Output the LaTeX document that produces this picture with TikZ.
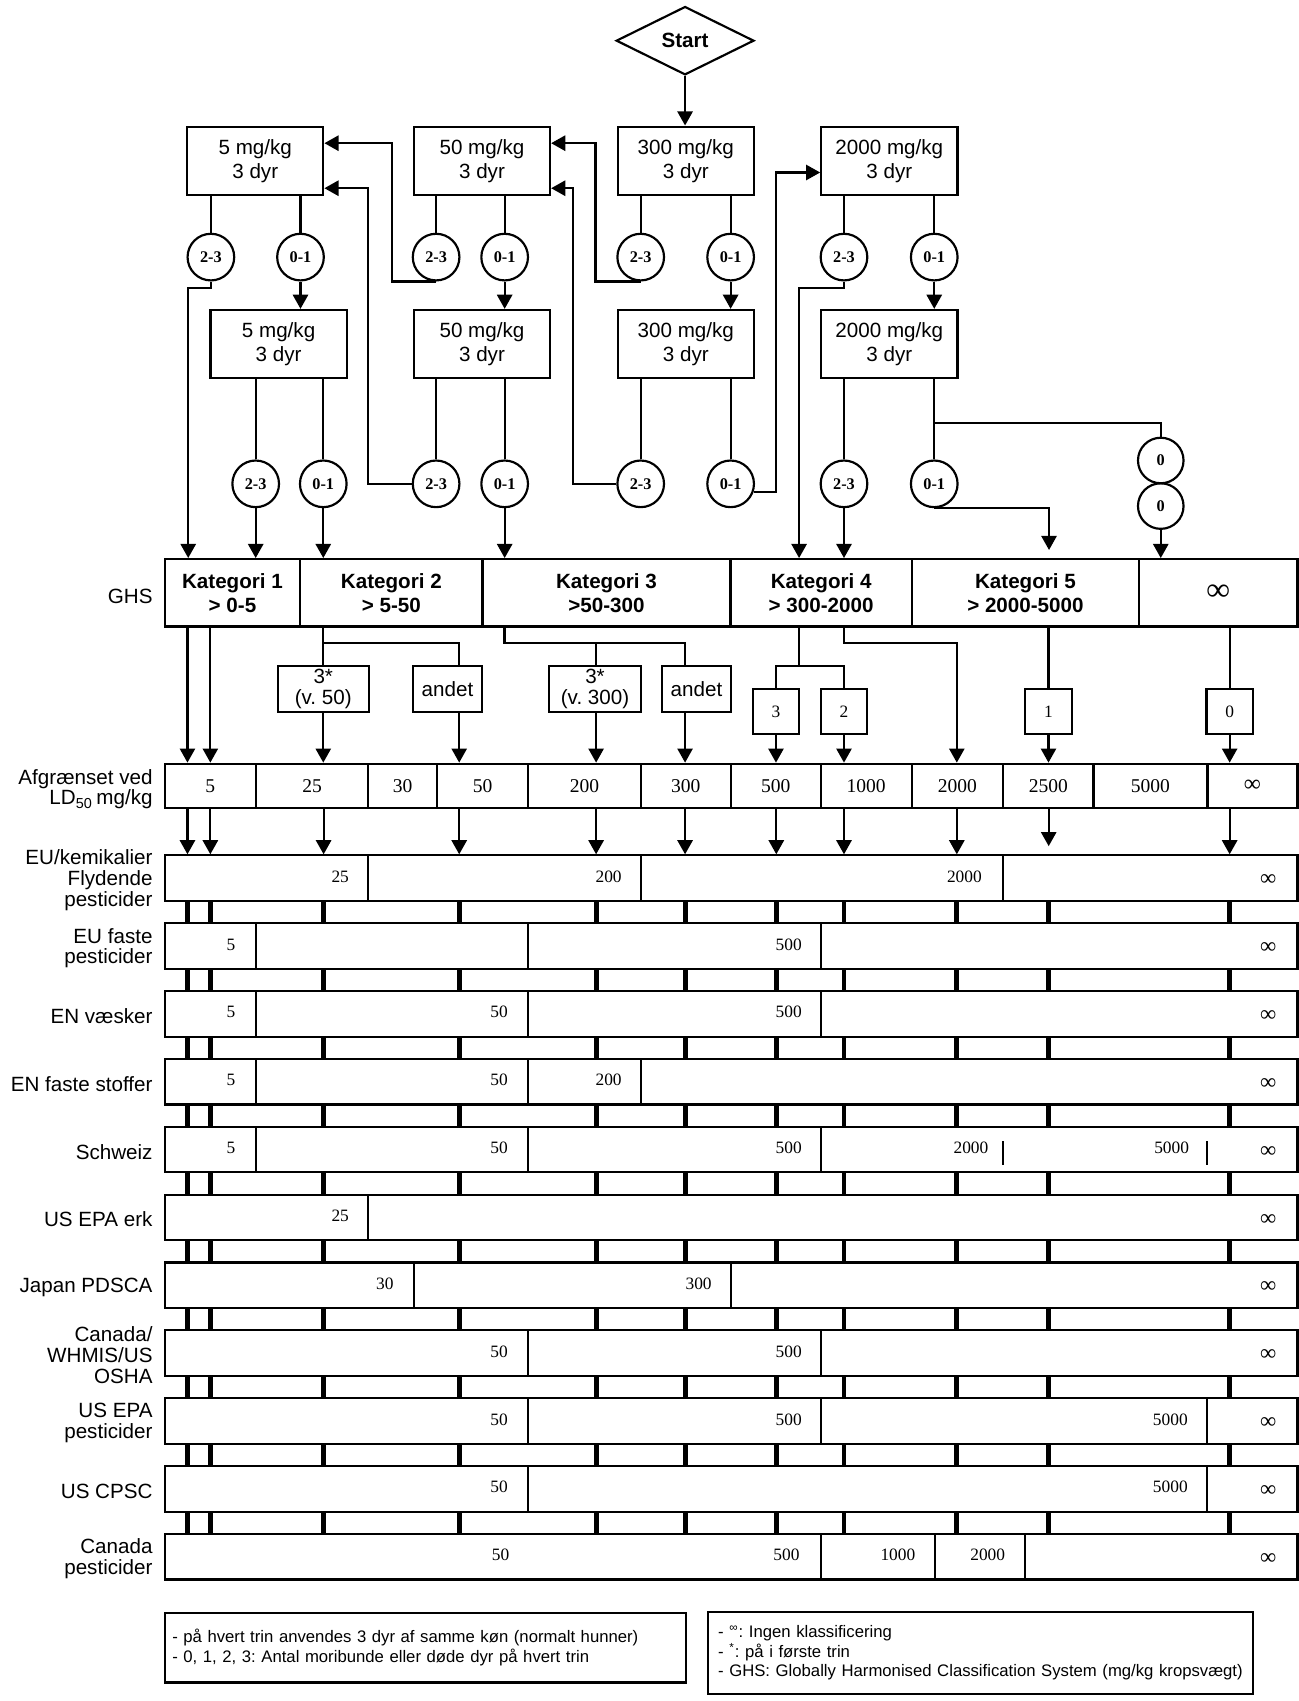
\documentclass[tikz,border=0pt]{standalone}
\usepackage{fontspec}
\setmainfont{Liberation Sans}
\newfontfamily\tnr{Liberation Serif}
\usetikzlibrary{arrows.meta,shapes.geometric,calc}
\frenchspacing

\tikzset{
 ln/.style={line width=1pt},
 arr/.style={line width=1pt, -{Triangle[width=7pt,length=6.5pt]}},
 fbox/.style={draw, line width=1pt, minimum width=62.75pt, minimum height=31.5pt, inner sep=0, align=center, font=\fontsize{9.5}{11}\selectfont},
 circ/.style={circle, draw, line width=1pt, minimum size=21.5pt, inner sep=0, font=\tnr\bfseries\fontsize{7.5}{7.5}\selectfont},
 ghs/.style={draw, line width=1pt, minimum height=31.05pt, inner sep=0, align=center, font=\bfseries\fontsize{9.5}{11.2}\selectfont},
 ldc/.style={draw, line width=1pt, minimum height=20.5pt, inner sep=0, font=\tnr\fontsize{9}{9}\selectfont},
 sbox/.style={draw, line width=1pt, inner sep=0, minimum height=21.2pt, align=center, font=\fontsize{9.5}{9.3}\selectfont},
 nbox/.style={draw, line width=1pt, minimum width=21.3pt, minimum height=20.85pt, inner sep=0, font=\tnr\fontsize{8}{8}\selectfont},
 rowframe/.style={draw, line width=1pt, minimum width=522.1pt, minimum height=21pt, inner sep=0},
 rowlab/.style={anchor=east, inner sep=0, align=right, font=\fontsize{9.5}{9.6}\selectfont},
 num/.style={inner sep=0, font=\tnr\fontsize{8}{8}\selectfont},
 inf/.style={inner sep=0, font=\tnr\fontsize{10.5}{10.5}\selectfont},
 divline/.style={line width=0.9pt},
 bar/.style={line width=2.3pt},
 legbox/.style={draw, line width=1pt, inner ysep=0, align=left, font=\fontsize{7.7}{9.1}\selectfont},
}

\newcommand{\ghscell}[4]{\node[ghs, minimum width={(#3-#2)*0.5pt}] (#1) at ({(#2+#3)/2},546.45) {#4};}
\newcommand{\ldcell}[4]{\node[ldc, minimum width={(#3-#2)*0.5pt}] (#1) at ({(#2+#3)/2},724.5) {#4};}
\newcommand{\datarow}[4]{%
 \pgfmathsetmacro{\rowtop}{788.5+62.55*(#1-1)}%
 \node[rowframe] (row#1) at (673.9,\rowtop+21) {};%
 \node[rowlab] (rowname#1) at (141,\rowtop+23) {#2};%
 \foreach \dv in {#3} {\draw[divline] (\dv,\rowtop) -- (\dv,\rowtop+42);}%
 \foreach \numx/\numt [count=\kk] in {#4} {\node[num] (row#1num\kk) at (\numx,\rowtop+19.5) {\numt};}%
 \node[inf] (row#1inf) at (1169,\rowtop+23) {∞};%
}

\begin{document}
\begin{tikzpicture}[x=0.5pt,y=-0.5pt]
\path[fill=white,use as bounding box] (0,0) rectangle (1197,1568);

% helper coordinates
\coordinate (x173) at (173.5,0);
\coordinate (x361) at (361,0);
\coordinate (x549) at (549,0);
\coordinate (x737) at (736.6,0);
\coordinate (x340) at (339.5,0);
\coordinate (x528) at (528,0);
\coordinate (x715) at (715,0);
\coordinate (x967) at (967,0);
\coordinate (x465) at (465,0);
\coordinate (y132) at (0,132);
\coordinate (y174) at (0,173.5);
\coordinate (y159) at (0,159);
\coordinate (y390) at (0,390);
\coordinate (y593) at (0,593);
\coordinate (y614) at (0,613.7);
\coordinate (y780) at (0,780);
\foreach \cx [count=\kk] in {172.8,193.9,298.3,423.3,549.5,631.5,715.6,778,882,966.7,1133.5}
  {\coordinate (col\kk) at (\cx,0);}
\coordinate (e5) at (967,507);

% start
\node[diamond, draw, line width=1pt, minimum width=63.5pt, minimum height=31.5pt, inner sep=0,
      font=\bfseries\fontsize{9.5}{11}\selectfont] (start) at (631.5,37.5) {Start};

% dose boxes
\node[fbox] (b5a) at (235.3,148.2) {5 mg/kg\\3 dyr};
\node[fbox] (b50a) at (444.3,148.2) {50 mg/kg\\3 dyr};
\node[fbox] (b300a) at (632.2,148.2) {300 mg/kg\\3 dyr};
\node[fbox] (b2000a) at (819.8,148.2) {2000 mg/kg\\3 dyr};
\node[fbox] (b5b) at (256.8,317.2) {5 mg/kg\\3 dyr};
\node[fbox] (b50b) at (444.3,317.2) {50 mg/kg\\3 dyr};
\node[fbox] (b300b) at (632.2,317.2) {300 mg/kg\\3 dyr};
\node[fbox] (b2000b) at (819.8,317.2) {2000 mg/kg\\3 dyr};

% circles row 1
\node[circ] (c5a23) at (194.4,237) {2-3};
\node[circ] (c5a01) at (277,237) {0-1};
\node[circ] (c50a23) at (402,237) {2-3};
\node[circ] (c50a01) at (465.2,237) {0-1};
\node[circ] (c300a23) at (590.6,237) {2-3};
\node[circ] (c300a01) at (673.5,237) {0-1};
\node[circ] (c2000a23) at (778,237) {2-3};
\node[circ] (c2000a01) at (861.2,237) {0-1};
% circles row 2
\node[circ] (c5b23) at (235.7,446) {2-3};
\node[circ] (c5b01) at (298,446) {0-1};
\node[circ] (c50b23) at (402,446) {2-3};
\node[circ] (c50b01) at (465.2,446) {0-1};
\node[circ] (c300b23) at (590.6,446) {2-3};
\node[circ] (c300b01) at (673.5,446) {0-1};
\node[circ] (c2000b23) at (778,446) {2-3};
\node[circ] (c2000b01) at (861.2,446) {0-1};
\node[circ, minimum size=21pt] (c0a) at (1070,424.5) {0};
\node[circ, minimum size=21pt] (c0b) at (1070,466.5) {0};

% GHS row
\node[anchor=east, inner sep=0, font=\fontsize{9.5}{11}\selectfont] (ghslab) at (141,549.8) {GHS};
\ghscell{k1}{151.8}{276.8}{Kategori 1\\> 0-5}
\ghscell{k2}{276.8}{444.7}{Kategori 2\\> 5-50}
\ghscell{k3}{444.7}{673.4}{Kategori 3\\>50-300}
\ghscell{k4}{673.4}{840.5}{Kategori 4\\> 300-2000}
\ghscell{k5}{840.5}{1050}{Kategori 5\\> 2000-5000}
\ghscell{k6}{1050}{1196}{{\tnr\fontsize{15}{15}\selectfont ∞}}

% small boxes
\node[sbox, minimum width=42pt] (bx3a) at (298,635) {3*\\(v. 50)};
\node[sbox, minimum width=31.5pt] (bxA1) at (412.5,635) {andet};
\node[sbox, minimum width=42.5pt] (bx3b) at (548.5,635) {3*\\(v. 300)};
\node[sbox, minimum width=31.5pt] (bxA2) at (642,635) {andet};
\node[nbox] (bx3) at (715.3,656) {3};
\node[nbox] (bx2) at (778,656) {2};
\node[nbox] (bx1) at (966.5,656) {1};
\node[nbox] (bx0) at (1133.5,656) {0};

% LD50 row
\node[rowlab] (ldlab) at (141,727.5) {Afgrænset ved\\LD\textsubscript{50}\,mg/kg};
\ldcell{ld1}{151.8}{236}{5}
\ldcell{ld2}{236}{339.5}{25}
\ldcell{ld3}{339.5}{403}{30}
\ldcell{ld4}{403}{486.7}{50}
\ldcell{ld5}{486.7}{590.7}{200}
\ldcell{ld6}{590.7}{673.6}{300}
\ldcell{ld7}{673.6}{756.5}{500}
\ldcell{ld8}{756.5}{840.4}{1000}
\ldcell{ld9}{840.4}{924.7}{2000}
\ldcell{ld10}{924.7}{1008}{2500}
\ldcell{ld11}{1008}{1113}{5000}
\ldcell{ld12}{1113}{1196}{{\fontsize{11}{11}\selectfont ∞}}

% ---- flow connectors top ----
\draw[arr] (start.south) -- (start.south |- b300a.north);
\foreach \c/\b in {c5a23/b5a,c5a01/b5a,c50a23/b50a,c50a01/b50a,c300a23/b300a,c300a01/b300a,c2000a23/b2000a,c2000a01/b2000a,
                   c5b23/b5b,c5b01/b5b,c50b23/b50b,c50b01/b50b,c300b23/b300b,c300b01/b300b,c2000b23/b2000b,c2000b01/b2000b}
  {\draw[ln] (\c.north |- \b.south) -- (\c.north);}
\draw[arr] (c5a01.south) -- (c5a01.south |- b5b.north);
\draw[arr] (c50a01.south) -- (c50a01.south |- b50b.north);
\draw[arr] (c300a01.south) -- (c300a01.south |- b300b.north);
\draw[arr] (c2000a01.south) -- (c2000a01.south |- b2000b.north);

\draw[arr] (c5a23.south) -- ++(0,6.3) -| (k1.north -| x173);
\draw[arr] (c50a23.south) -| (x361 |- y132) -- (b5a.east |- y132);
\draw[arr] (c300a23.south) -| (x549 |- y132) -- (b50a.east |- y132);
\draw[arr] (c2000a23.south) -- ++(0,6.3) -| (k4.north -| x737);

\draw[arr] (c50b23.west) -| (x340 |- y174) -- (b5a.east |- y174);
\draw[arr] (c300b23.west) -| (x528 |- y174) -- (b50a.east |- y174);
\draw[arr] (c300b01.-20) -| (x715 |- y159) -- (b2000a.west |- y159);
\draw[arr] (c2000b01.south) -| (e5);
\draw[ln] (c2000b01.north |- y390) -| (c0a.north);

\draw[arr] (c5b23.south) -- (c5b23.south |- k1.north);
\draw[arr] (c5b01.south) -- (c5b01.south |- k2.north);
\draw[arr] (c50b01.south) -- (c50b01.south |- k3.north);
\draw[arr] (c2000b23.south) -- (c2000b23.south |- k4.north);
\draw[arr] (c0b.south) -- (c0b.south |- k6.north);

% ---- GHS to LD50 ----
\draw[arr] (k1.south -| col1) -- (ld1.north -| col1);
\draw[arr] (k1.south -| col2) -- (ld1.north -| col2);
\draw[ln] (k2.south -| bx3a.north) -- (bx3a.north);
\draw[ln] (bx3a.north |- y593) -| (bxA1.north -| col4);
\draw[arr] (bx3a.south) -- (bx3a.south |- ld2.north);
\draw[arr] (bxA1.south -| col4) -- (ld4.north -| col4);
\draw[ln] (k3.south -| x465) -- (x465 |- y593) -| (bxA2.north -| col6);
\draw[ln] (col5 |- y593) -- (bx3b.north -| col5);
\draw[arr] (bx3b.south -| col5) -- (ld5.north -| col5);
\draw[arr] (bxA2.south -| col6) -- (ld6.north -| col6);
\draw[ln] (k4.south -| x737) -- (x737 |- y614);
\draw[ln] (bx3.north) |- (bx2.north |- y614) -- (bx2.north);
\draw[arr] (bx3.south) -- (bx3.south |- ld7.north);
\draw[arr] (bx2.south) -- (bx2.south |- ld8.north);
\draw[arr] (k4.south -| col8) -- (col8 |- y593) -| (ld9.north -| col9);
\draw[ln] (bx1.north |- k5.south) -- (bx1.north);
\draw[arr] (bx1.south) -- (bx1.south |- ld10.north);
\draw[ln] (bx0.north |- k6.south) -- (bx0.north);
\draw[arr] (bx0.south) -- (bx0.south |- ld12.north);

% ---- data rows ----
\datarow{1}{EU/kemikalier\\Flydende\\pesticider}{339.5,590.7,924.7}{313.6/25,561/200,889/2000}
\datarow{2}{EU faste\\pesticider}{236,486.7,757}{213/5,727/500}
\datarow{3}{EN væsker}{236,486.7,757}{213/5,460/50,727/500}
\datarow{4}{EN faste stoffer}{236,486.7,590.7}{213/5,460/50,561/200}
\datarow{5}{Schweiz}{236,486.7,757}{213/5,460/50,727/500,895/2000,1080/5000}
\datarow{6}{US EPA erk}{339.5}{313.6/25}
\datarow{7}{Japan PDSCA}{381.2,673.6}{354.8/30,644/300}
\datarow{8}{Canada/\\WHMIS/US\\OSHA}{486.7,757}{460/50,727/500}
\datarow{9}{US EPA\\pesticider}{486.7,757,1113}{460/50,727/500,1078.8/5000}
\datarow{10}{US CPSC}{486.7,1113}{460/50,1078.8/5000}
\datarow{11}{Canada\\pesticider}{757,862,945}{461.5/50,725/500,827.7/1000,910.5/2000}
% Schweiz small marks
\draw[divline] (924.7,1052) -- (924.7,1073.5);
\draw[divline] (1113,1052) -- (1113,1073.5);

% LD50 -> first row
\foreach \kk in {1,2,3,4,5,6,7,8,9,11}
  {\draw[arr] (ld1.south -| col\kk) -- (row1.north -| col\kk);}
\draw[arr] (ld1.south -| col10) -- (col10 |- y780);

% thick bars between rows
\foreach \ri [evaluate=\ri as \rj using int(\ri+1)] in {1,...,10}
  {\foreach \kk in {1,...,11}
    {\draw[bar] (row\ri.south -| col\kk) -- (row\rj.north -| col\kk);}}

% legends
\node[legbox, inner xsep=3.5pt, text width=233.1pt, minimum height=32.15pt] (leg1) at (391.9,1518.85)
  {- på hvert trin anvendes 3 dyr af samme køn (normalt hunner)\\- 0, 1, 2, 3: Antal moribunde eller døde dyr på hvert trin};
\node[legbox, inner xsep=4.8pt, text width=241.85pt, minimum height=37.65pt] (leg2) at (903.85,1523.65)
  {- \textsuperscript{∞}: Ingen klassificering\\- \textsuperscript{*}: på i første trin\\- GHS: Globally Harmonised Classification System (mg/kg kropsvægt)};
\end{tikzpicture}
\end{document}
